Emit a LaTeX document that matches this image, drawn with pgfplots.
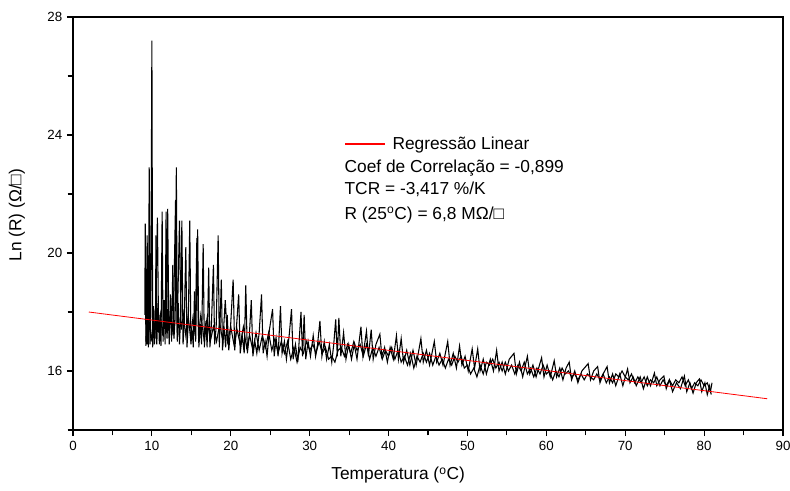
\documentclass[border=0pt]{standalone}
\usepackage{pgfplots}
\pgfplotsset{compat=1.18}
\usepackage{fontspec}
\setmainfont{Liberation Sans}
\begin{document}
\begin{tikzpicture}
\begin{axis}[
  scale only axis, width=532.5pt, height=309.75pt,
  xmin=0, xmax=90, ymin=14, ymax=28,
  xtick={0,10,...,90}, ytick={16,20,24,28},
  minor xtick={5,15,...,85}, minor ytick={14,18,22,26},
  tick align=outside, tick pos=left,
  major tick length=4.5pt, minor tick length=4pt,
  axis line style={line width=1pt},
  every tick/.style={black, line width=0.8pt},
  /pgf/number format/assume math mode=true,
  ticklabel style={font=\fontsize{10}{12}\selectfont},
  xlabel={Temperatura (\textsuperscript{o}C)},
  ylabel={Ln (R) (Ω/□)},
  label style={font=\fontsize{13}{15}\selectfont},
  xlabel style={at={(axis description cs:0.458,-0.11)}, anchor=center},
  ylabel style={at={(axis description cs:-0.079,0.52)}, anchor=center, rotate=0},
  legend style={at={(axis cs:34.4,23.70)}, anchor=west, draw=none, fill=none,
    inner sep=0pt, outer sep=0pt, font=\fontsize{13}{15}\selectfont,
    nodes={inner sep=2pt}, column sep=3pt},
  legend cell align=left,
  legend image code/.code={\draw[color=red, line width=1.1pt] (0pt,0pt) -- (30pt,0pt);},
]
\coordinate (ll) at (rel axis cs:0,0);
\coordinate (ur) at (rel axis cs:1,1);
% series A (spiky)
\addplot[black, line width=0.8pt, forget plot] coordinates {
(9.10,17.9) (9.16,21.0) (9.24,16.85) (9.32,17.8) (9.40,16.9) (9.47,18.6) (9.55,16.8) (9.66,22.9) (9.76,16.9) (9.86,17.9)
(10.00,27.2) (10.10,16.8) (10.22,18.2) (10.32,16.9) (10.45,17.6) (10.52,20.6) (10.62,16.9) (10.80,18.3) (10.95,16.9) (11.05,17.9)
(11.15,16.85) (11.30,21.4) (11.42,17.0) (11.55,18.4) (11.68,16.9) (11.80,21.4) (11.92,17.1) (12.05,18.1) (12.20,16.9) (12.35,18.6)
(12.50,17.0) (12.65,19.6) (12.80,17.1) (12.95,17.8) (13.10,22.9) (13.22,17.0) (13.35,18.3) (13.50,16.9) (13.65,17.9) (13.80,21.1)
(13.95,16.9) (14.10,17.6) (14.30,20.2) (14.45,16.8) (14.62,17.7) (14.80,21.1) (14.95,16.9) (15.10,17.4) (15.25,16.8) (15.40,18.7)
(15.55,17.0) (15.80,20.8) (15.95,16.8) (16.15,17.6) (16.30,16.9) (16.50,20.3) (16.65,16.8) (16.85,17.7) (17.00,16.8) (17.20,19.5)
(17.35,16.8) (17.55,17.6) (17.80,19.6) (17.95,16.9) (18.15,17.5) (18.40,20.6) (18.55,16.8) (18.80,19.1) (18.95,16.7) (19.15,17.5)
(19.35,16.8) (19.55,17.9) (19.75,16.7) (19.95,17.4) (20.30,19.1) (20.50,16.7) (20.70,17.4) (21.00,18.6) (21.20,16.6) (21.45,17.2)
(21.70,16.6) (21.90,18.9) (22.10,16.6) (22.35,17.2) (22.60,18.4) (22.80,16.5) (23.05,17.0) (23.30,16.6) (23.60,17.3) (23.90,18.6)
(24.10,16.6) (24.35,17.0) (24.60,16.5) (24.90,17.4) (25.30,18.1) (25.50,16.5) (25.75,17.1) (26.00,16.5) (26.30,18.2) (26.50,16.6)
(26.80,17.0) (27.05,16.4) (27.40,17.2) (27.70,18.1) (27.90,16.4) (28.20,16.9) (28.50,16.3) (28.90,18.0) (29.10,16.5) (29.30,17.9)
(29.50,16.4) (29.80,17.0) (30.10,16.5) (30.45,17.2) (30.75,16.5) (31.00,16.9) (31.30,17.7) (31.55,16.5) (31.85,17.0) (32.15,16.4)
(32.50,16.9) (32.80,16.3) (33.05,16.9) (33.30,17.75) (33.50,16.5) (33.70,17.8) (33.95,16.5) (34.30,17.3) (34.60,16.4) (34.95,16.9)
(35.30,16.4) (35.65,16.9) (36.00,16.4) (36.50,17.5) (36.75,16.5) (37.20,17.35) (37.45,16.5) (37.80,17.4) (38.05,16.4) (38.40,16.9)
(38.90,17.25) (39.15,16.5) (39.50,16.8) (39.85,16.3) (40.20,16.8) (40.60,16.4) (41.00,17.2) (41.25,16.4) (41.60,17.1) (41.90,16.3)
(42.30,16.7) (42.70,16.2) (43.10,16.7) (43.50,16.2) (44.10,17.1) (44.40,16.3) (44.80,16.7) (45.20,16.2) (45.80,17.0) (46.10,16.3)
(46.50,16.6) (46.90,16.2) (47.50,17.0) (47.80,16.2) (48.20,16.6) (48.60,16.1) (49.00,16.85) (49.30,16.2) (49.70,16.5) (50.10,16.0)
(50.60,16.75) (50.90,16.1) (51.30,16.75) (51.60,16.0) (52.00,16.4) (52.40,15.9) (52.90,16.4) (53.30,16.0) (53.70,16.7) (54.00,16.0)
(54.40,16.3) (54.80,15.9) (55.30,16.4) (55.90,16.6) (56.20,15.9) (56.60,16.3) (57.00,15.8) (57.60,16.5) (57.90,15.9) (58.30,16.2)
(58.70,15.8) (59.40,16.45) (59.70,15.8) (60.10,16.2) (60.50,15.8) (61.00,16.35) (61.30,15.8) (61.70,16.1) (62.10,15.7) (62.50,16.1)
(62.90,16.3) (63.20,15.7) (63.60,16.0) (64.00,15.6) (64.50,16.0) (65.30,16.25) (65.60,15.7) (66.00,16.0) (66.50,16.15) (66.80,15.6)
(67.20,15.9) (67.70,16.15) (68.00,15.6) (68.40,15.9) (68.80,15.5) (69.30,15.9) (69.70,15.5) (70.30,16.07) (70.60,15.6) (71.00,15.8)
(71.40,15.5) (71.90,15.8) (72.30,15.4) (72.80,15.8) (73.20,15.5) (73.70,15.93) (74.00,15.5) (74.40,15.7) (74.90,15.83) (75.20,15.4)
(75.60,15.7) (76.00,15.3) (76.50,15.6) (77.00,15.4) (77.50,15.83) (77.80,15.3) (78.20,15.6) (78.60,15.25) (79.00,15.6) (79.40,15.73)
(79.70,15.3) (80.10,15.6) (80.40,15.2) (80.70,15.5) (80.90,15.2)
};
% series B (smoother)
\addplot[black, line width=0.8pt, forget plot] coordinates {
(9.25,17.0) (9.40,20.6) (9.50,17.2) (9.70,17.6) (9.90,17.0) (10.20,17.8) (10.40,17.1) (10.70,21.2) (10.85,17.3) (11.10,17.9)
(11.35,17.2) (11.60,18.0) (11.85,17.3) (12.00,21.5) (12.15,17.4) (12.40,18.0) (12.70,17.2) (13.00,21.8) (13.20,17.3) (13.50,21.1)
(13.70,17.4) (14.00,17.9) (14.30,17.2) (14.60,17.9) (14.90,17.1) (15.20,17.8) (15.50,17.2) (15.70,20.5) (15.90,17.2) (16.20,17.9)
(16.60,17.1) (17.00,17.8) (17.40,17.0) (17.80,17.5) (18.20,17.0) (18.60,17.6) (19.00,17.0) (19.30,18.4) (19.60,17.0) (20.00,17.5)
(20.40,16.9) (20.80,17.4) (21.20,16.9) (21.60,17.5) (22.00,16.8) (22.40,17.2) (22.80,16.7) (23.20,17.3) (23.60,16.7) (24.00,17.2)
(24.40,16.8) (24.80,17.3) (25.20,16.7) (25.60,17.1) (26.00,16.6) (26.40,17.0) (26.80,16.6) (27.20,17.0) (27.60,16.4) (28.00,16.8)
(28.40,16.3) (28.80,16.8) (29.20,16.6) (29.60,17.0) (30.00,16.7) (30.40,16.9) (30.80,16.6) (31.20,17.0) (31.60,16.6) (32.00,16.8)
(32.40,16.4) (32.80,16.5) (33.20,16.3) (33.60,16.7) (34.00,16.8) (34.40,16.5) (34.80,16.9) (35.20,16.6) (35.60,17.0) (36.00,16.7)
(36.40,16.9) (36.80,16.5) (37.20,16.9) (37.60,16.4) (38.00,16.8) (38.40,16.5) (38.80,16.8) (39.20,16.4) (39.60,16.7) (40.00,16.5)
(40.40,16.8) (40.80,16.4) (41.20,16.7) (41.60,16.3) (42.00,16.5) (42.40,16.2) (42.80,16.6) (43.20,16.1) (43.60,16.5) (44.00,16.3)
(44.40,16.6) (44.80,16.3) (45.20,16.6) (45.60,16.2) (46.00,16.5) (46.40,16.2) (46.80,16.4) (47.20,16.1) (47.60,16.4) (48.00,16.2)
(48.40,16.5) (48.80,16.3) (49.20,16.5) (49.60,16.1) (50.00,16.2) (50.40,15.9) (50.80,16.1) (51.20,15.8) (51.60,16.2) (52.00,15.9)
(52.40,16.3) (52.80,16.2) (53.20,16.4) (53.60,16.1) (54.00,16.3) (54.40,16.0) (54.80,16.3) (55.20,16.0) (55.60,16.2) (56.00,15.9)
(56.40,16.2) (56.80,16.0) (57.20,16.3) (57.60,15.9) (58.00,16.1) (58.40,15.8) (58.80,16.1) (59.20,15.9) (59.60,16.2) (60.00,15.9)
(60.40,16.0) (60.80,15.7) (61.20,16.0) (61.60,15.8) (62.00,16.1) (62.40,15.9) (62.80,16.0) (63.20,15.8) (63.60,15.9) (64.00,15.7)
(64.40,15.9) (64.80,15.7) (65.20,15.9) (65.60,15.8) (66.00,15.7) (66.40,15.9) (66.80,15.7) (67.20,15.9) (67.60,15.6) (68.00,15.8)
(68.40,15.6) (68.80,15.9) (69.20,15.8) (69.60,16.0) (70.00,15.8) (70.40,15.7) (70.80,15.9) (71.20,15.6) (71.60,15.8) (72.00,15.6)
(72.40,15.8) (72.80,15.5) (73.20,15.7) (73.60,15.6) (74.00,15.8) (74.40,15.5) (74.80,15.7) (75.20,15.5) (75.60,15.7) (76.00,15.5)
(76.40,15.7) (76.80,15.6) (77.20,15.8) (77.60,15.5) (78.00,15.7) (78.40,15.4) (78.80,15.6) (79.20,15.5) (79.60,15.7) (80.00,15.5)
(80.40,15.6) (80.80,15.3) (81.00,15.6)
};
% linear regression
\addplot[red, line width=0.6pt] coordinates {(2,18.00) (88,15.06)};
\addlegendentry{Regressão Linear}
\node[anchor=west, inner sep=0pt, font=\fontsize{13}{15}\selectfont] at (axis cs:34.4,22.89) {Coef de Correlação = -0,899};
\node[anchor=west, inner sep=0pt, font=\fontsize{13}{15}\selectfont] at (axis cs:34.4,22.15) {TCR = -3,417 \%/K};
\node[anchor=west, inner sep=0pt, font=\fontsize{13}{15}\selectfont] at (axis cs:34.4,21.30) {R (25\textsuperscript{o}C) = 6,8 MΩ/□};
\end{axis}
\pgfresetboundingbox
\path[use as bounding box] ([shift={(-54.75pt,-45pt)}]ll) rectangle ([shift={(5.25pt,12.75pt)}]ur);
\end{tikzpicture}
\end{document}
